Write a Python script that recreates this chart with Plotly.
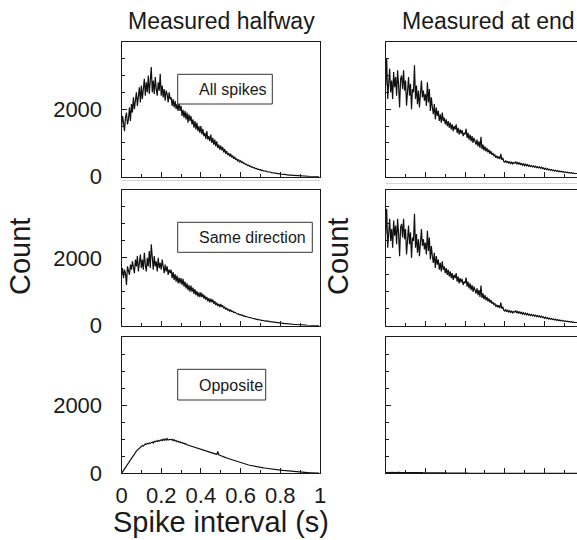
import numpy as np
import plotly.graph_objects as go

# ---------------- data (counts per 5 ms bin) ----------------
bin_width = 0.005

halfway_all = [
    1450, 1800, 1600, 1350, 1750, 1900, 1550, 1700, 2050, 1650,
    2150, 1900, 2350, 2000, 2250, 2500, 2100, 2400, 2650, 2200,
    2700, 2300, 2550, 2900, 2400, 2800, 2500, 3000, 2450, 2750,
    3250, 2500, 2850, 2450, 2950, 2600, 2400, 2800, 2550, 3050,
    2400, 2700, 2350, 2600, 2250, 2550, 2450, 2200, 2500, 2300,
    2350, 2100, 2300, 2050, 2250, 2000, 2150, 1950, 2200, 1950,
    2100, 1800, 1980, 1750, 1950, 1700, 1900, 1600, 1850, 1650,
    1800, 1550, 1700, 1450, 1650, 1400, 1600, 1350, 1500, 1300,
    1500, 1250, 1420, 1200, 1300, 1120, 1350, 1100, 1200, 1050,
    1250, 1000, 1150, 950, 1100, 900, 1050, 850, 950, 800,
    920, 780, 880, 720, 820, 680, 760, 640, 700, 600,
    680, 570, 630, 530, 590, 500, 540, 470, 500, 440,
    470, 420, 440, 390, 400, 360, 370, 330, 340, 310,
    320, 280, 290, 260, 265, 240, 245, 220, 225, 205,
    210, 185, 195, 170, 175, 160, 165, 145, 150, 135,
    140, 120, 125, 110, 112, 100, 102, 90, 92, 82,
    85, 74, 76, 66, 68, 60, 62, 54, 55, 48,
    48, 42, 43, 37, 38, 33, 34, 29, 30, 26,
    24, 20, 20, 17, 17, 14, 15, 12, 12, 10,
    9, 7, 7, 6, 5, 4, 4, 3, 3, 2,
]

halfway_same = [
    1500, 1700, 1400, 1650, 1550, 1200, 1750, 1600, 1500, 1800,
    1650, 1900, 1700, 1550, 1950, 1750, 2050, 1600, 1850, 2100,
    1700, 1950, 1650, 2150, 1800, 1600, 2000, 1750, 2200, 1700,
    2400, 1800, 1650, 2050, 1750, 1900, 1600, 2000, 1700, 1850,
    1650, 1950, 1700, 1550, 1800, 1600, 1750, 1500, 1650, 1550,
    1650, 1400, 1580, 1350, 1520, 1300, 1480, 1250, 1420, 1250,
    1400, 1200, 1380, 1150, 1300, 1100, 1250, 1050, 1200, 1000,
    1180, 1000, 1120, 940, 1080, 900, 1020, 860, 980, 840,
    980, 840, 940, 800, 890, 760, 850, 720, 810, 690,
    800, 690, 770, 650, 720, 610, 680, 580, 640, 550,
    640, 550, 600, 510, 560, 480, 520, 450, 490, 420,
    460, 420, 430, 390, 400, 370, 370, 340, 345, 320,
    330, 305, 310, 285, 290, 265, 270, 250, 250, 235,
    240, 222, 225, 205, 210, 192, 195, 180, 182, 168,
    170, 158, 160, 148, 150, 138, 140, 130, 130, 122,
    120, 112, 112, 104, 104, 96, 96, 88, 88, 82,
    80, 75, 74, 68, 68, 63, 62, 57, 56, 52,
    50, 46, 45, 41, 40, 36, 35, 31, 30, 27,
    25, 23, 22, 19, 19, 16, 16, 13, 13, 11,
    10, 9, 8, 7, 6, 5, 4, 4, 3, 2,
]

halfway_opposite = [
    0, 45, 95, 140, 185, 230, 275, 320, 360, 400,
    450, 500, 540, 580, 615, 650, 680, 710, 740, 765,
    790, 815, 800, 840, 860, 850, 880, 870, 895, 880,
    900, 920, 890, 940, 925, 950, 935, 970, 945, 960,
    985, 960, 1000, 970, 1010, 975, 1020, 980, 995, 1000,
    985, 1000, 960, 990, 950, 965, 930, 945, 915, 925,
    900, 910, 880, 885, 860, 865, 840, 830, 820, 805,
    800, 790, 775, 780, 755, 750, 735, 740, 715, 705,
    700, 690, 680, 670, 665, 650, 645, 635, 625, 615,
    605, 600, 585, 580, 570, 560, 555, 640, 545, 530,
    515, 505, 495, 485, 470, 460, 450, 440, 425, 415,
    405, 395, 385, 375, 362, 352, 342, 332, 320, 310,
    302, 295, 287, 280, 272, 265, 258, 250, 243, 237,
    230, 225, 218, 212, 206, 200, 195, 189, 184, 179,
    175, 170, 165, 160, 156, 151, 147, 142, 138, 134,
    130, 126, 122, 118, 115, 111, 108, 104, 101, 98,
    95, 91, 88, 84, 81, 77, 74, 70, 67, 63,
    60, 57, 54, 51, 49, 46, 44, 41, 39, 37,
    35, 33, 31, 29, 27, 25, 23, 21, 19, 17,
    15, 14, 12, 11, 10, 9, 8, 7, 6, 5,
]

end_all = [
    2700, 3500, 2300, 2900, 3200, 2500, 2850, 2300, 3100, 2650,
    2950, 2400, 3150, 2700, 2050, 2900, 3000, 2600, 3150, 2550,
    2850, 2100, 2700, 2950, 2400, 2750, 2000, 2600, 2500, 3300,
    2300, 2700, 2150, 2550, 2050, 2650, 2850, 2350, 2550, 2250,
    2450, 2100, 2800, 2200, 2600, 1950, 2350, 2050, 1850, 2150,
    1700, 2050, 1800, 1950, 1650, 1850, 1600, 1900, 1650, 1750,
    1550, 1700, 1500, 1650, 1450, 1600, 1400, 1550, 1350, 1500,
    1400, 1550, 1300, 1450, 1250, 1400, 1280, 1380, 1200, 1300,
    1250, 1420, 1150, 1300, 1100, 1250, 1050, 1200, 1000, 1150,
    1050, 950, 1100, 900, 1050, 850, 1180, 820, 950, 780,
    900, 750, 850, 720, 800, 680, 760, 650, 700, 620,
    650, 560, 620, 540, 600, 520, 680, 500, 560, 450,
    430, 480, 410, 460, 400, 440, 390, 430, 380, 420,
    400, 450, 370, 430, 360, 420, 350, 400, 340, 380,
    330, 370, 320, 360, 310, 340, 300, 330, 290, 320,
    280, 310, 270, 300, 260, 290, 250, 280, 240, 260,
    220, 250, 210, 240, 200, 220, 190, 210, 180, 200,
    170, 190, 160, 180, 150, 170, 145, 160, 140, 150,
    130, 140, 120, 135, 115, 125, 105, 120, 100, 110,
    95, 100, 90, 95, 85, 90, 80, 85, 75, 80,
]

end_same = [
    2700, 3450, 2300, 2900, 3150, 2500, 2850, 2300, 3100, 2650,
    2950, 2400, 3150, 2700, 2050, 2900, 3000, 2600, 3150, 2550,
    2850, 2100, 2700, 2950, 2400, 2750, 2000, 2600, 2500, 3300,
    2300, 2700, 2150, 2550, 2050, 2650, 2850, 2350, 2550, 2250,
    2450, 2100, 2800, 2200, 2600, 1950, 2350, 2050, 1850, 2150,
    1700, 2050, 1800, 1950, 1650, 1850, 1600, 1900, 1650, 1750,
    1550, 1700, 1500, 1650, 1450, 1600, 1400, 1550, 1350, 1500,
    1400, 1550, 1300, 1450, 1250, 1400, 1280, 1380, 1200, 1300,
    1250, 1420, 1150, 1300, 1100, 1250, 1050, 1200, 1000, 1150,
    1050, 950, 1100, 900, 1050, 850, 1180, 820, 950, 780,
    900, 750, 850, 720, 800, 680, 760, 650, 700, 620,
    650, 560, 620, 540, 600, 520, 680, 500, 560, 450,
    430, 480, 410, 460, 400, 440, 390, 430, 380, 420,
    400, 450, 370, 430, 360, 420, 350, 400, 340, 380,
    330, 370, 320, 360, 310, 340, 300, 330, 290, 320,
    280, 310, 270, 300, 260, 290, 250, 280, 240, 260,
    220, 250, 210, 240, 200, 220, 190, 210, 180, 200,
    170, 190, 160, 180, 150, 170, 145, 160, 140, 150,
    130, 140, 120, 135, 115, 125, 105, 120, 100, 110,
    95, 100, 90, 95, 85, 90, 80, 85, 75, 80,
]

end_opposite = [
    15, 25, 20, 30, 18, 25, 22, 28, 20, 24,
    26, 18, 24, 20, 27, 22, 19, 25, 21, 23,
    20, 24, 18, 22, 25, 19, 21, 17, 23, 20,
    18, 21, 16, 20, 19, 15, 18, 20, 16, 17,
    15, 18, 14, 17, 15, 13, 16, 14, 12, 15,
    13, 11, 14, 12, 10, 13, 11, 9, 12, 10,
    9, 11, 8, 10, 9, 7, 9, 8, 6, 8,
    7, 6, 8, 5, 7, 6, 5, 6, 4, 5,
    5, 4, 5, 3, 4, 4, 3, 4, 3, 3,
    3, 2, 3, 2, 3, 2, 2, 3, 2, 2,
    2, 1, 2, 2, 1, 2, 1, 1, 2, 1,
    1, 1, 2, 1, 1, 1, 1, 1, 1, 1,
    1, 0, 1, 1, 0, 1, 0, 1, 0, 0,
    1, 0, 0, 1, 0, 0, 0, 1, 0, 0,
    0, 0, 1, 0, 0, 0, 0, 0, 0, 0,
    0, 0, 0, 0, 0, 0, 0, 0, 0, 0,
    0, 0, 0, 0, 0, 0, 0, 0, 0, 0,
    0, 0, 0, 0, 0, 0, 0, 0, 0, 0,
    0, 0, 0, 0, 0, 0, 0, 0, 0, 0,
    0, 0, 0, 0, 0, 0, 0, 0, 0, 0,
]

column_titles = ["Measured halfway", "Measured at end"]
panel_labels = ["All spikes", "Same direction", "Opposite"]
x_title = "Spike interval (s)"
y_title = "Count"
y_major_ticks = [0, 2000]

# ---------------- geometry (pixels) ----------------
W, H = 577, 540
FONT = "Liberation Sans, Arial, Helvetica, sans-serif"
INK = "#1a1a1a"
left_px = (121.5, 320.0)
right_px = (385.7, 577.0)
rows_px = [(41.7, 176.7), (190.0, 325.7), (337.3, 473.3)]
px_per_unit = left_px[1] - left_px[0]


def dom_x(a, b):
    return [a / W, min(b / W, 1.0)]


def dom_y(t, b):
    return [1 - b / H, 1 - t / H]


x_bins = np.arange(len(halfway_all)) * bin_width

series = {
    1: halfway_all, 3: halfway_same, 5: halfway_opposite,
    2: end_all, 4: end_same, 6: end_opposite,
}

fig = go.Figure()
layout = {}
for k, vals in series.items():
    col = (k - 1) % 2
    row = (k - 1) // 2
    xname = "x" if k == 1 else f"x{k}"
    yname = "y" if k == 1 else f"y{k}"
    fig.add_trace(go.Scatter(
        x=x_bins, y=vals, mode="lines",
        line=dict(color="#111111", width=1.2),
        xaxis=xname, yaxis=yname, showlegend=False, hoverinfo="skip",
    ))
    cpx = left_px if col == 0 else right_px
    xr = [0, 1] if col == 0 else [0, (right_px[1] - right_px[0]) / px_per_unit]
    xa = dict(
        domain=dom_x(*cpx), anchor=yname, range=xr,
        showline=True, linecolor=INK, linewidth=1, mirror=True,
        ticks="inside", ticklen=5, tickwidth=1, tickcolor=INK,
        tickmode="linear", tick0=0, dtick=0.2,
        minor=dict(ticks="inside", ticklen=3, tickcolor=INK, tickmode="linear", tick0=0, dtick=0.1),
        showgrid=False, zeroline=False, automargin=False,
        showticklabels=(k == 5), ticklabelstandoff=2,
        tickfont=dict(family=FONT, size=22, color=INK),
    )
    ya = dict(
        domain=dom_y(*rows_px[row]), anchor=xname, range=[0, 4000],
        showline=True, linecolor=INK, linewidth=1, mirror=(col == 0),
        ticks="inside", ticklen=5, tickwidth=1, tickcolor=INK,
        tickmode="array", tickvals=y_major_ticks,
        minor=dict(ticks="inside", ticklen=3, tickcolor=INK, tickmode="linear", tick0=0, dtick=500),
        showgrid=False, zeroline=False, automargin=False,
        showticklabels=(col == 0), ticklabelstandoff=14,
        tickfont=dict(family=FONT, size=22, color=INK),
    )
    layout["xaxis" if k == 1 else f"xaxis{k}"] = xa
    layout["yaxis" if k == 1 else f"yaxis{k}"] = ya

shapes = []
annotations = []

# legend-style label boxes in left column
boxes = [  # (x0, x1, y_top, y_bottom) in px
    (177.7, 272.3, 74.3, 104.0),
    (177.7, 312.3, 222.3, 252.3),
    (177.7, 265.7, 369.3, 400.0),
]
for label, (bx0, bx1, bt, bb) in zip(panel_labels, boxes):
    shapes.append(dict(type="rect", xref="paper", yref="paper",
                       x0=bx0 / W, x1=bx1 / W, y0=1 - bb / H, y1=1 - bt / H,
                       line=dict(color="#333333", width=1), fillcolor="white", layer="above"))
    annotations.append(dict(text=label, xref="paper", yref="paper",
                            x=197.0 / W, y=1 - ((bt + bb) / 2 + 0.5) / H,
                            xanchor="left", yanchor="middle", showarrow=False,
                            font=dict(family=FONT, size=16, color=INK)))

# faint scan lines beneath top panels
shapes.append(dict(type="line", xref="paper", yref="paper", x0=left_px[0] / W, x1=left_px[1] / W,
                   y0=1 - 180.5 / H, y1=1 - 180.5 / H, line=dict(color="#d6d6d6", width=1)))
shapes.append(dict(type="line", xref="paper", yref="paper", x0=right_px[0] / W, x1=1,
                   y0=1 - 183.5 / H, y1=1 - 183.5 / H, line=dict(color="#d6d6d6", width=1)))

# column titles
annotations.append(dict(text=column_titles[0], xref="paper", yref="paper", x=221 / W, y=1 - 21 / H,
                        xanchor="center", yanchor="middle", showarrow=False,
                        font=dict(family=FONT, size=23, color=INK)))
annotations.append(dict(text=column_titles[1], xref="paper", yref="paper", x=488 / W, y=1 - 21 / H,
                        xanchor="center", yanchor="middle", showarrow=False,
                        font=dict(family=FONT, size=23, color=INK)))
# y titles
for cx in (20, 338):
    annotations.append(dict(text=y_title, xref="paper", yref="paper", x=cx / W, y=1 - 257 / H,
                            xanchor="center", yanchor="middle", textangle=-90, showarrow=False,
                            font=dict(family=FONT, size=29, color=INK)))
# x title
annotations.append(dict(text=x_title, xref="paper", yref="paper", x=221 / W, y=1 - 522 / H,
                        xanchor="center", yanchor="middle", showarrow=False,
                        font=dict(family=FONT, size=29, color=INK)))

fig.update_layout(
    width=W, height=H,
    margin=dict(l=0, r=0, t=0, b=0, pad=0),
    paper_bgcolor="white", plot_bgcolor="white",
    shapes=shapes, annotations=annotations,
    **layout,
)

fig.write_html(
    "out.html",
    config={"displayModeBar": False, "staticPlot": True},
    post_script="document.body.style.margin='0';document.body.style.overflow='hidden';",
)
